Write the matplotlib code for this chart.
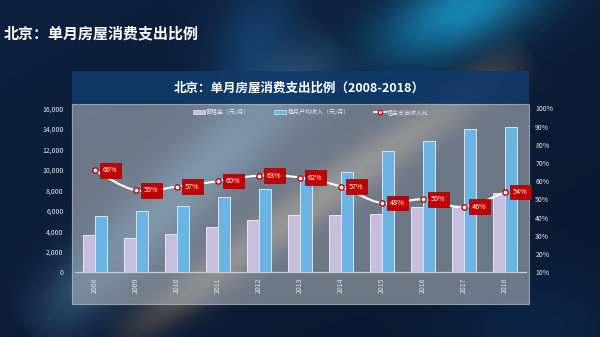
import numpy as np
import matplotlib
matplotlib.use('Agg')
import matplotlib.pyplot as plt
from matplotlib.path import Path
from matplotlib.patches import PathPatch, Rectangle, Patch
from matplotlib.lines import Line2D
from matplotlib.ticker import FuncFormatter

plt.rcParams['font.family'] = ['Noto Sans CJK SC', 'DejaVu Sans']

# ---------------- data ----------------
years = ['2008', '2009', '2010', '2011', '2012', '2013', '2014', '2015', '2016', '2017', '2018']
rent = [3640, 3320, 3700, 4390, 5130, 5620, 5590, 5690, 6400, 6370, 7710]
income = [5490, 5980, 6500, 7350, 8160, 9060, 9820, 11800, 12810, 13950, 14200]
ratio = [66, 55, 57, 60, 63, 62, 57, 48, 50, 46, 54]
legend_labels = ['套租金（元/月）', '每月户均收入（元/月）', '租金支出收入比']
main_title = '北京：单月房屋消费支出比例'
chart_title = '北京：单月房屋消费支出比例（2008-2018）'
left_ticks = list(range(0, 16001, 2000))
right_ticks = list(range(10, 101, 10))

W, H = 600, 337
fig = plt.figure(figsize=(W / 100, H / 100), dpi=100)

# ---------------- background ----------------
yy, xx = np.mgrid[0:H, 0:W].astype(float)
c1 = np.array([14, 32, 62]) / 255.0
c2 = np.array([10, 24, 48]) / 255.0
t = ((xx / W) + (yy / H)) / 2
img = c1[None, None, :] * (1 - t[..., None]) + c2[None, None, :] * t[..., None]


def blend(img, g, color):
    col = np.array(color) / 255.0
    g = np.clip(g, 0, 1)[..., None]
    return img * (1 - g) + col[None, None, :] * g


def ellipse(cx, cy, sx, sy, ang=0.0):
    a = np.deg2rad(ang)
    dx, dy = xx - cx, yy - cy
    u = dx * np.cos(a) + dy * np.sin(a)
    v = -dx * np.sin(a) + dy * np.cos(a)
    return np.exp(-(u ** 2) / (2 * sx ** 2) - (v ** 2) / (2 * sy ** 2))


def streak(x0, y0, x1, y1, sig):
    p = np.array([x1 - x0, y1 - y0], float)
    L = np.hypot(*p)
    d = p / L
    dx, dy = xx - x0, yy - y0
    along = (dx * d[0] + dy * d[1]) / L
    perp = -dx * d[1] + dy * d[0]
    prof = np.clip(np.sin(np.clip(along, 0, 1) * np.pi), 0, 1) ** 0.7
    return np.exp(-(perp ** 2) / (2 * sig ** 2)) * prof


img = blend(img, 0.85 * ellipse(465, 8, 65, 28, -25), (25, 150, 200))
img = blend(img, 0.45 * ellipse(255, 40, 28, 45, 20), (25, 100, 160))
img = blend(img, 0.6 * streak(30, 337, 340, 40, 24), (100, 170, 210))
img = blend(img, 0.7 * streak(110, 345, 530, 50, 15), (180, 150, 110))
img = blend(img, 0.35 * ellipse(540, 330, 60, 40), (15, 60, 110))

bg = fig.add_axes([0, 0, 1, 1], zorder=0)
bg.imshow(img, extent=(0, W, H, 0), aspect='auto', interpolation='bilinear')
bg.set_xlim(0, W)
bg.set_ylim(H, 0)
bg.axis('off')

# panel
px0, px1 = 71.6, 528.5
bg.add_patch(Rectangle((px0, 71), px1 - px0, 33.3, facecolor='#103a6a', alpha=0.92,
                       edgecolor='none', zorder=2))
bg.add_patch(Rectangle((px0, 104.3), px1 - px0, 304 - 104.3, facecolor='#a4acb6', alpha=0.64,
                       edgecolor='#c4ccd4', linewidth=0.8, zorder=2))

fig.text(4 / W, 1 - 33 / H, main_title, ha='left', va='center', fontsize=10.8,
         fontweight='bold', color='white')
fig.text(299 / W, 1 - 88 / H, chart_title, ha='center', va='center', fontsize=9,
         fontweight='bold', color='white')

# ---------------- chart ----------------
ax = fig.add_axes([74.5 / W, (H - 272.3) / H, 451 / W, 164 / H], zorder=3)
ax.patch.set_alpha(0)
x = np.arange(len(years))
bw = 0.29
ax.bar(x - bw / 2, rent, width=bw, color='#c8bfdf', edgecolor='#e6e8f0', linewidth=0.7, zorder=3)
ax.bar(x + bw / 2, income, width=bw, color='#6cb4e4', edgecolor='#d6e6f4', linewidth=0.7, zorder=3)
ax.set_xlim(-0.5, len(years) - 0.5)
ax.set_ylim(0, 16000)
ax.set_yticks(left_ticks)
ax.yaxis.set_major_formatter(FuncFormatter(lambda v, p: f'{int(v):,}'))
ax.set_xticks(x)
ax.set_xticklabels(years, rotation=90)
ax.tick_params(axis='y', length=0, pad=8, labelsize=5, labelcolor='#e4e8ee')
ax.tick_params(axis='x', length=0, pad=4, labelsize=5, labelcolor='#dfe4ea')
for s in ['left', 'right', 'top']:
    ax.spines[s].set_visible(False)
ax.spines['bottom'].set_color('#c4ccd4')
ax.spines['bottom'].set_linewidth(0.9)

ax2 = ax.twinx()
ax2.set_zorder(4)
ax2.patch.set_alpha(0)
ax2.set_ylim(10, 100)
ax2.set_yticks(right_ticks)
ax2.yaxis.set_major_formatter(FuncFormatter(lambda v, p: f'{int(v)}%'))
ax2.tick_params(axis='y', length=0, pad=7, labelsize=5, labelcolor='#e4e8ee')
for s in ax2.spines.values():
    s.set_visible(False)

# smooth line via Catmull-Rom -> Bezier
pts = np.column_stack([x, ratio]).astype(float)
verts = [pts[0]]
codes = [Path.MOVETO]
n = len(pts)
for i in range(n - 1):
    p0 = pts[i - 1] if i > 0 else pts[i]
    p1 = pts[i]
    p2 = pts[i + 1]
    p3 = pts[i + 2] if i + 2 < n else pts[i + 1]
    k = 0.2
    verts += [p1 + (p2 - p0) * k, p2 - (p3 - p1) * k, p2]
    codes += [Path.CURVE4] * 3
ax2.add_patch(PathPatch(Path(verts, codes), facecolor='none', edgecolor='white',
                        linewidth=1.5, zorder=5))
ax2.plot(x, ratio, linestyle='none', marker='o', markersize=3.8, markerfacecolor='white',
         markeredgecolor='#c00000', markeredgewidth=1.0, zorder=6)
for xi, r in zip(x, ratio):
    ax2.annotate(f'{r}%', (xi, r), xytext=(5.6, 0), textcoords='offset points',
                 ha='left', va='center', fontsize=5.2, color='white', zorder=7,
                 bbox=dict(boxstyle='square,pad=0.45', facecolor='#c00000',
                           edgecolor='#9a0000', linewidth=0.5))

handles = [Patch(facecolor='#c8bfdf', edgecolor='#e6e8f0', linewidth=0.5),
           Patch(facecolor='#6cb4e4', edgecolor='#d6e6f4', linewidth=0.5),
           Line2D([0], [0], color='white', linewidth=1.2, marker='o', markersize=3,
                  markerfacecolor='white', markeredgecolor='#c00000', markeredgewidth=0.9)]
leg = ax2.legend(handles, legend_labels, loc='center', bbox_to_anchor=(0.524, 0.977),
                 ncol=3, frameon=False, fontsize=4.3, handlelength=2.0, handleheight=0.6,
                 handletextpad=0.2, columnspacing=4.0, borderaxespad=0)
for txt in leg.get_texts():
    txt.set_color('#e4e8ee')

fig.savefig('out.png', dpi=100)
